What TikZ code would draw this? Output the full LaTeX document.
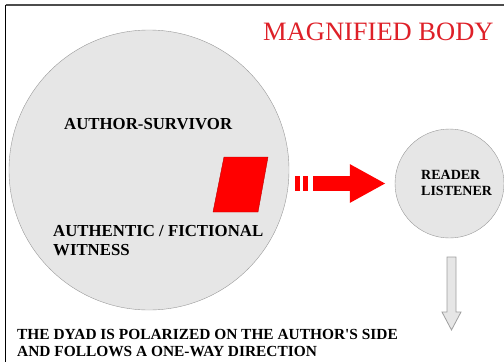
\documentclass[tikz,border=0pt]{standalone}
\usepackage{fontspec}
\setmainfont{Liberation Serif}
\usetikzlibrary{arrows.meta,positioning}

\definecolor{titlered}{RGB}{222,32,40}
\definecolor{bodygray}{RGB}{230,230,230}

\begin{document}
\begin{tikzpicture}[x=1pt,y=-1pt,
    circ/.style={circle,draw=gray!80,fill=bodygray,inner sep=0pt},
    lbl/.style={font=\bfseries,inner sep=0pt,anchor=base west,align=left}]
      \useasboundingbox (0,0) rectangle (504,362);
      % frame
      \draw[gray!60!black,line width=1.2pt] (5.5,5) -- (504,5);
      \draw[black,line width=1.3pt] (5.5,4.5) -- (5.5,362);

      \node[circ,minimum size=280pt] (body) at (149,170) {};
      \node[circ,minimum size=109pt] (reader) at (449.5,183.5) {};

      % red block inside the body
      \filldraw[fill=red,draw=red!75!black,line width=0.4pt]
        (224,157) -- (268,157) -- (258,212) -- (213,212) -- cycle;

      \begin{scope}[every node/.style={lbl}]
        \node[font=\fontsize{26.5}{30}\selectfont,text=titlered] (title) at (263,40) {MAGNIFIED BODY};
        \node[font=\bfseries\fontsize{16.8}{19}\selectfont] (survivor) at (64,129) {AUTHOR-SURVIVOR};
        \node[font=\bfseries\fontsize{16.8}{19}\selectfont] (witness) at (53,255) {AUTHENTIC / FICTIONAL\\WITNESS};
        \node[font=\bfseries\fontsize{14}{16}\selectfont] (readertext) at (421,195) {READER\\LISTENER};
        \node[font=\bfseries\fontsize{15.4}{17}\selectfont] (dyad) at (17,356) {THE DYAD IS POLARIZED ON THE AUTHOR\textquotesingle S SIDE\\AND FOLLOWS A ONE-WAY DIRECTION};
      \end{scope}

      % one-way arrow
      \draw[red,line width=15pt,dash pattern=on 5pt off 3pt on 5pt off 5pt on 200pt,
            -{Triangle[length=36pt,width=36pt]},shorten <=6pt,shorten >=9pt]
        (body.east |- reader.west) -- (reader.west);

      % down arrow
      \coordinate (down) at (451.5,330);
      \filldraw[fill=bodygray,draw=gray!75,line width=0.8pt]
        (down) -- ++(-9.5,-18) -- ++(5,0) -- ++(0,-55) -- ++(9,0)
        -- ++(0,55) -- ++(5,0) -- cycle;
    \end{tikzpicture}
\end{document}
